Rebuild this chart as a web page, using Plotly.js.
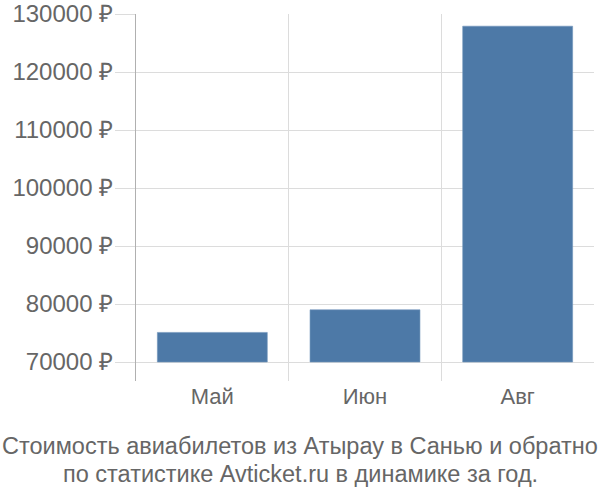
<!DOCTYPE html>
<html>
<head>
<meta charset="utf-8">
<script src="https://cdn.plot.ly/plotly-3.0.1.min.js"></script>
<style>html,body{margin:0;padding:0;background:#fff}#chart{width:600px;height:500px}</style>
</head>
<body>
<div id="chart"></div>
<script>
const months = ["Май", "Июн", "Авг"];
const prices = [75100, 79000, 127900];
const baseValue = 70000;
const yTicks = [70000, 80000, 90000, 100000, 110000, 120000, 130000];
const titleLines = ["Стоимость авиабилетов из Атырау в Санью и обратно", "по статистике Avticket.ru в динамике за год."];

const font = "Liberation Sans, Arial, sans-serif";
const trace = {
  type: "bar",
  x: months,
  y: prices.map(v => v - baseValue),
  base: baseValue,
  width: 0.72,
  marker: {color: "#4d79a7", line: {color: "#7094bb", width: 0.6}},
  hoverinfo: "none"
};
const titleY = [-0.177, -0.253];
const layout = {
  width: 600, height: 500,
  margin: {l: 136, r: 6, t: 14, b: 119},
  paper_bgcolor: "#fff", plot_bgcolor: "#fff",
  showlegend: false,
  font: {family: font, color: "#666"},
  annotations: titleLines.map((t, i) => ({
    text: t, xref: "paper", yref: "paper",
    x: (300 - 136) / 458, y: titleY[i],
    xanchor: "center", yanchor: "middle", showarrow: false,
    font: {family: font, size: 23.5, color: "#666"}
  })),
  xaxis: {
    type: "category",
    range: [-0.5, 2.5],
    tickson: "boundaries",
    ticks: "",
    showgrid: true, gridcolor: "#dcdcdc", gridwidth: 1,
    showline: false, zeroline: false,
    tickfont: {family: font, size: 22, color: "#666"}
  },
  yaxis: {
    range: [66724, 130000],
    tickvals: yTicks,
    ticktext: yTicks.map(v => v + " ₽"),
    ticks: "outside", ticklen: 20, tickcolor: "#dcdcdc", tickwidth: 1,
    ticklabelstandoff: -3,
    showgrid: true, gridcolor: "#dcdcdc", gridwidth: 1,
    showline: true, linecolor: "#b0b0b0", linewidth: 1,
    zeroline: false,
    tickfont: {family: font, size: 24, color: "#666"}
  }
};
Plotly.newPlot("chart", [trace], layout, {displayModeBar: false, staticPlot: true});
</script>
</body>
</html>
